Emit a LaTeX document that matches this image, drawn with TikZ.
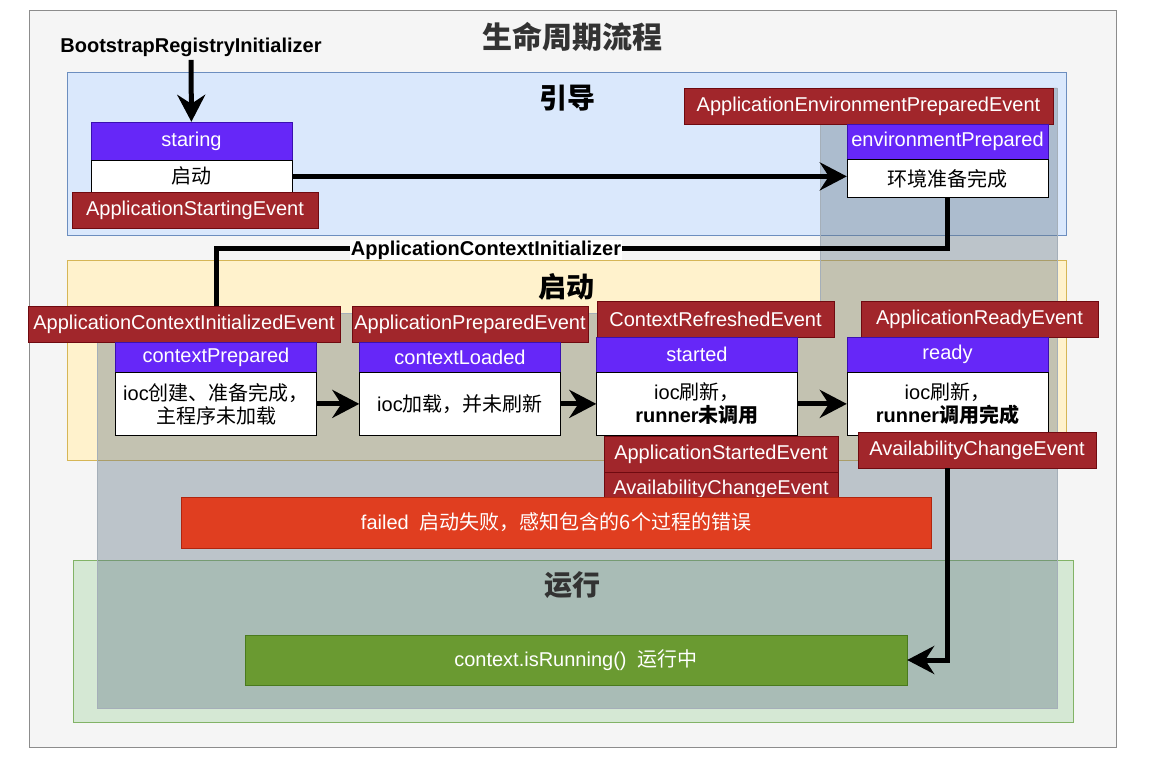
\documentclass[tikz,border=0pt]{standalone}
\usepackage{fontspec}
\setmainfont{Liberation Sans}
\newfontfamily\cjk{Noto Sans CJK SC}
\usepackage{xcolor}
\usetikzlibrary{arrows.meta, positioning, calc}
\definecolor{pagebg}{HTML}{F5F5F5}
\definecolor{pageline}{HTML}{8C8C8C}
\definecolor{bootfill}{HTML}{DAE8FC}
\definecolor{bootline}{HTML}{6C8EBF}
\definecolor{startfill}{HTML}{FFF2CC}
\definecolor{startline}{HTML}{D6B656}
\definecolor{runfill}{HTML}{D5E8D4}
\definecolor{runline}{HTML}{82B366}
\definecolor{shade}{HTML}{647687}
\definecolor{phpurple}{HTML}{6627F8}
\definecolor{phline}{HTML}{3A10B0}
\definecolor{evred}{HTML}{A1262B}
\definecolor{evline}{HTML}{6F0A10}
\definecolor{failred}{HTML}{E03E20}
\definecolor{failline}{HTML}{B0250E}
\definecolor{rungreen}{HTML}{6A9A31}
\definecolor{runedge}{HTML}{4A7A1E}
\definecolor{titlegray}{HTML}{333333}
\newcommand{\zh}[1]{{\cjk #1}}
\newcommand{\shadearea}{(820,88) -- (1057,88) -- (1057,708) -- (97,708) -- (97,313) -- (820,313) -- cycle}

\begin{document}
\begin{tikzpicture}[x=1pt, y=-1pt,
    txt/.style={font=\fontsize{20}{23}\selectfont},
    evt/.style={txt, draw=evline, fill=evred, text=white, inner sep=0pt, minimum height=36pt},
    phase/.style={txt, draw=phline, fill=phpurple, text=white, inner sep=0pt, minimum width=201pt},
    desc/.style={txt, draw=black, fill=white, inner sep=0pt, minimum width=201pt, align=center},
    area/.style={font=\fontsize{28}{32}\selectfont\bfseries\cjk},
    flow/.style={line width=5pt, -{Stealth[length=27pt,width=28pt,inset=9pt]}},
    link/.style={line width=5pt}]
    \useasboundingbox (0,0) rectangle (1152,757);

    % Frame and stages
    \draw[pageline, fill=pagebg] (29,10) rectangle (1116,747);
    \draw[bootline, fill=bootfill] (67,72) rectangle (1066,235);
    \draw[startline, fill=startfill] (67,260) rectangle (1066,460);
    \draw[runline, fill=runfill] (73,560) rectangle (1073,722);

    \node[titlegray, font=\fontsize{30}{34}\selectfont\bfseries\cjk] (title) at (572,37) {生命周期流程};
    \node[area] (boot) at (567,98) {引导};
    \node[area] (start) at (566,287) {启动};

    % Shaded area (stages seen through it)
    \fill[shade!39!pagebg] \shadearea;
    \begin{scope}
        \clip \shadearea;
        \draw[shade!39!bootline, fill=shade!39!bootfill] (67,72) rectangle (1066,235);
        \draw[shade!39!startline, fill=shade!39!startfill] (67,260) rectangle (1066,460);
        \draw[shade!39!runline, fill=shade!39!runfill] (73,560) rectangle (1073,722);
    \end{scope}
    \draw[shade!55!pagebg] \shadearea;
    \node[area, titlegray] (run) at (572,585) {运行};

    % Bootstrap
    \node[txt, font=\fontsize{20}{23}\selectfont\bfseries] (bri) at (191,47) {BootstrapRegistryInitializer};
    \node[phase, minimum height=38pt] (stHead) at (191.5,141) {staring};
    \node[desc, minimum height=32pt, below=0pt of stHead] (stBody) {\zh{启动}};
    \node[evt, minimum width=246pt] (stEvt) at (195,210) {ApplicationStartingEvent};

    \node[evt, minimum width=369pt] (envEvt) at (868.5,106) {ApplicationEnvironmentPreparedEvent};
    \node[phase, minimum height=35pt] (envHead) at (947.5,141.5) {environmentPrepared};
    \node[desc, minimum height=38pt, below=0pt of envHead] (envBody) {\zh{环境准备完成}};

    % Context
    \node[evt, minimum width=312pt] (cpEvt) at (184,324) {ApplicationContextInitializedEvent};
    \node[phase, minimum height=30pt] (cpHead) at (216,357) {contextPrepared};
    \node[desc, minimum height=63pt, below=0pt of cpHead] (cpBody) {ioc\zh{创建、准备完成，}\\\zh{主程序未加载}};

    \node[evt, minimum width=236pt] (clEvt) at (470,324) {ApplicationPreparedEvent};
    \node[phase, minimum height=30pt] (clHead) at (460,357) {contextLoaded};
    \node[desc, minimum height=63pt, below=0pt of clHead] (clBody) {ioc\zh{加载，并未刷新}};

    \node[evt, minimum width=237pt] (sdEvt) at (715.5,319.5) {ContextRefreshedEvent};
    \node[phase, minimum height=35pt] (sdHead) at (697,354.5) {started};
    \node[desc, minimum height=63pt, below=0pt of sdHead] (sdBody) {ioc\zh{刷新，}\\\textbf{runner\zh{未调用}}};
    \node[evt, minimum width=234pt] (sdStarted) at (721,454) {ApplicationStartedEvent};
    \node[evt, minimum width=234pt, minimum height=34pt, below=0pt of sdStarted] (sdAvail) {AvailabilityChangeEvent};

    \node[evt, minimum width=237pt] (rdEvt) at (979.5,319) {ApplicationReadyEvent};
    \node[phase, minimum height=35pt] (rdHead) at (947.5,354.5) {ready};
    \node[desc, minimum height=63pt, below=0pt of rdHead] (rdBody) {ioc\zh{刷新，}\\\textbf{runner\zh{调用完成}}};
    \node[evt, minimum width=238pt] (rdAvail) at (977,450) {AvailabilityChangeEvent};

    % Failed and running
    \node[txt, draw=failline, fill=failred, text=white, minimum width=750pt, minimum height=51pt, inner sep=0pt] (failed) at (556,522.5) {failed\ \ \zh{启动失败，感知包含的6个过程的错误}};
    \node[txt, draw=runedge, fill=rungreen, text=white, minimum width=662pt, minimum height=50pt, inner sep=0pt] (running) at (576,660) {context.isRunning()\ \ \zh{运行中}};

    % Flow
    \draw[flow] (bri) -- (stHead);
    \draw[flow] (stBody.east) -- (stBody.east -| envBody.west);
    \draw[link] (envBody.south) -- ++(0,51) -| (cpEvt.north -| cpHead.north);
    \node[txt, font=\fontsize{20}{23}\selectfont\bfseries, fill=white, inner sep=1pt] (aci) at (486,250) {ApplicationContextInitializer};
    \draw[flow] (cpBody) -- (clBody);
    \draw[flow] (clBody) -- (sdBody);
    \draw[flow] (sdBody) -- (rdBody);
    \draw[flow] (rdAvail.south -| rdBody.south) |- (running.east);
\end{tikzpicture}
\end{document}
